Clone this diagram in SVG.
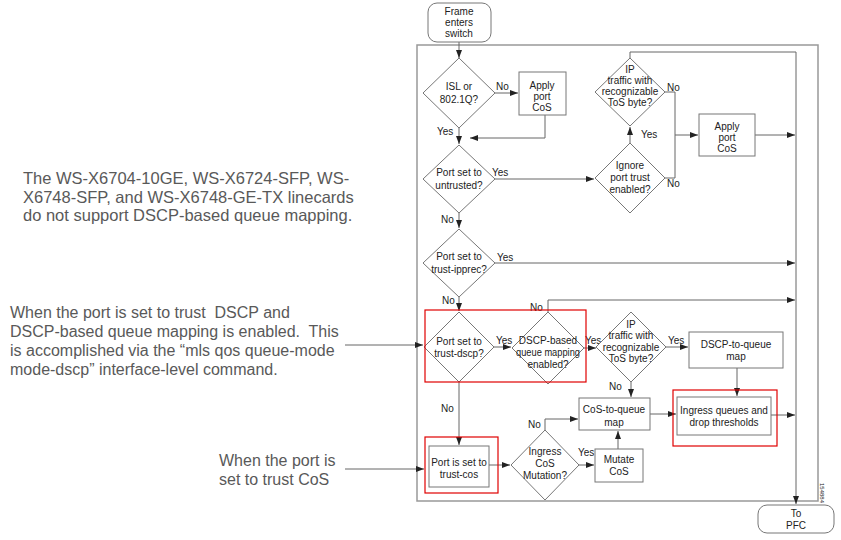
<svg xmlns="http://www.w3.org/2000/svg" width="841" height="540" viewBox="0 0 841 540">
<style>
.t{font-family:"Liberation Sans",Arial,sans-serif;font-size:10px;fill:#222;text-anchor:middle}
.l{font-family:"Liberation Sans",Arial,sans-serif;font-size:10px;fill:#222}
.n{fill:#fff;stroke:#777;stroke-width:1}
.a{font-family:"Liberation Sans",Arial,sans-serif;font-size:16px;fill:#595959}
.c{fill:none;stroke:#666;stroke-width:1}
.r{fill:none;stroke:#e00000;stroke-width:1.2}
</style>
<defs>
<marker id="ar" markerUnits="userSpaceOnUse" markerWidth="8" markerHeight="6" refX="8" refY="3" orient="auto">
<path d="M0,0 L8,3 L0,6 z" fill="#222"/>
</marker>
</defs>
<rect width="841" height="540" fill="#fff"/>
<rect id="frame-box" x="417" y="45" width="401" height="456" fill="none" stroke="#999" stroke-width="1.5"/>

<g id="connectors">
<path class="c" d="M459,42 V58" marker-end="url(#ar)"/>
<path class="c" d="M495,93 H518" marker-end="url(#ar)"/>
<path class="c" d="M545,115 V138 H470" marker-end="url(#ar)"/>
<path class="c" d="M459,128 V144" marker-end="url(#ar)"/>
<path class="c" d="M495,179 H594" marker-end="url(#ar)"/>
<path class="c" d="M459,213 V228" marker-end="url(#ar)"/>
<path class="c" d="M495,263 H795" marker-end="url(#ar)"/>
<path class="c" d="M459,297 V311" marker-end="url(#ar)"/>
<path class="c" d="M494,347 H511" marker-end="url(#ar)"/>
<path class="c" d="M548,312 V300 H795" marker-end="url(#ar)"/>
<path class="c" d="M584,348 H596" marker-end="url(#ar)"/>
<path class="c" d="M666,347 H688" marker-end="url(#ar)"/>
<path class="c" d="M631,382 V397" marker-end="url(#ar)"/>
<path class="c" d="M737,368 V396" marker-end="url(#ar)"/>
<path class="c" d="M650,414 H676" marker-end="url(#ar)"/>
<path class="c" d="M771,415 H795" marker-end="url(#ar)"/>
<path class="c" d="M459,382 V445" marker-end="url(#ar)"/>
<path class="c" d="M489,465 H510" marker-end="url(#ar)"/>
<path class="c" d="M545,430 V419 H578" marker-end="url(#ar)"/>
<path class="c" d="M579,465 H594" marker-end="url(#ar)"/>
<path class="c" d="M618,449 V431" marker-end="url(#ar)"/>
<path class="c" d="M630,143 V127" marker-end="url(#ar)"/>
<path class="c" d="M665,92 H675 V178 H665"/>
<path class="c" d="M675,135 H698" marker-end="url(#ar)"/>
<path class="c" d="M755,135 H795" marker-end="url(#ar)"/>
<path class="c" d="M630,58 V52 H796 V504" marker-end="url(#ar)"/>
<path class="c" d="M345,345 H423" marker-end="url(#ar)"/>
<path class="c" d="M345,469 H424" marker-end="url(#ar)"/>
</g>

<g id="labels">
<text class="l" x="496" y="90">No</text>
<text class="l" x="437" y="135">Yes</text>
<text class="l" x="492" y="176">Yes</text>
<text class="l" x="441" y="223">No</text>
<text class="l" x="497" y="261">Yes</text>
<text class="l" x="442" y="304">No</text>
<text class="l" x="496" y="344">Yes</text>
<text class="l" x="530" y="311">No</text>
<text class="l" x="585" y="344">Yes</text>
<text class="l" x="668" y="344">Yes</text>
<text class="l" x="609" y="390">No</text>
<text class="l" x="441" y="412">No</text>
<text class="l" x="528" y="428">No</text>
<text class="l" x="578" y="456">Yes</text>
<text class="l" x="641" y="138">Yes</text>
<text class="l" x="667" y="91">No</text>
<text class="l" x="667" y="187">No</text>
</g>

<g id="n-frame">
<rect class="n" x="428" y="3" width="63" height="39" rx="9"/>
<text class="t" x="459" y="15">Frame</text>
<text class="t" x="459" y="26">enters</text>
<text class="t" x="459" y="37">switch</text>
</g>
<g id="n-isl">
<polygon class="n" points="459,58 495,93 459,128 423,93"/>
<text class="t" x="459" y="90">ISL or</text>
<text class="t" x="459" y="103">802.1Q?</text>
</g>
<g id="n-apply1">
<rect class="n" x="519" y="72" width="47" height="43"/>
<text class="t" x="542" y="89">Apply</text>
<text class="t" x="542" y="100">port</text>
<text class="t" x="542" y="111">CoS</text>
</g>
<g id="n-untrusted">
<polygon class="n" points="459,145 495,179 459,213 423,179"/>
<text class="t" x="459" y="176">Port set to</text>
<text class="t" x="459" y="189">untrusted?</text>
</g>
<g id="n-ipprec">
<polygon class="n" points="459,229 495,263 459,297 423,263"/>
<text class="t" x="459" y="260">Port set to</text>
<text class="t" x="459" y="273">trust-ipprec?</text>
</g>
<g id="n-dscp">
<polygon class="n" points="459,312 494,347 459,382 424,347"/>
<text class="t" x="459" y="345">Port set to</text>
<text class="t" x="459" y="357">trust-dscp?</text>
</g>
<g id="n-dscpq">
<polygon class="n" points="548,312 584,348 548,384 512,348"/>
<text class="t" x="548" y="344">DSCP-based</text>
<text class="t" x="548" y="356" textLength="64" lengthAdjust="spacingAndGlyphs">queue mapping</text>
<text class="t" x="548" y="368">enabled?</text>
</g>
<g id="n-ip1">
<polygon class="n" points="630,58 665,92 630,126 595,92"/>
<text class="t" x="630" y="73">IP</text>
<text class="t" x="630" y="84">traffic with</text>
<text class="t" x="630" y="95">recognizable</text>
<text class="t" x="630" y="106">ToS byte?</text>
</g>
<g id="n-ignore">
<polygon class="n" points="630,143 665,178 630,213 595,178"/>
<text class="t" x="630" y="169">Ignore</text>
<text class="t" x="630" y="181">port trust</text>
<text class="t" x="630" y="193">enabled?</text>
</g>
<g id="n-apply2">
<rect class="n" x="699" y="114" width="56" height="42"/>
<text class="t" x="727" y="130">Apply</text>
<text class="t" x="727" y="141">port</text>
<text class="t" x="727" y="152">CoS</text>
</g>
<g id="n-ip2">
<polygon class="n" points="631,312 666,347 631,382 596,347"/>
<text class="t" x="631" y="328">IP</text>
<text class="t" x="631" y="339">traffic with</text>
<text class="t" x="631" y="351">recognizable</text>
<text class="t" x="631" y="362">ToS byte?</text>
</g>
<g id="n-dscpmap">
<rect class="n" x="689" y="332" width="94" height="36"/>
<text class="t" x="736" y="348">DSCP-to-queue</text>
<text class="t" x="736" y="360">map</text>
</g>
<g id="n-cosmap">
<rect class="n" x="579" y="398" width="71" height="32"/>
<text class="t" x="614" y="413">CoS-to-queue</text>
<text class="t" x="614" y="426">map</text>
</g>
<g id="n-ingress">
<rect class="n" x="677" y="397" width="94" height="38"/>
<text class="t" x="724" y="414">Ingress queues and</text>
<text class="t" x="724" y="426">drop thresholds</text>
</g>
<g id="n-trustcos">
<rect class="n" x="429" y="446" width="60" height="41"/>
<text class="t" x="459" y="466">Port is set to</text>
<text class="t" x="459" y="478">trust-cos</text>
</g>
<g id="n-mutation">
<polygon class="n" points="545,430 579,465 545,500 511,465"/>
<text class="t" x="545" y="455">Ingress</text>
<text class="t" x="545" y="467">CoS</text>
<text class="t" x="545" y="479">Mutation?</text>
</g>
<g id="n-mutate">
<rect class="n" x="595" y="449" width="48" height="33"/>
<text class="t" x="619" y="463">Mutate</text>
<text class="t" x="619" y="475">CoS</text>
</g>
<g id="n-pfc">
<rect class="n" x="758" y="505" width="76" height="28" rx="9"/>
<text class="t" x="796" y="517">To</text>
<text class="t" x="796" y="529">PFC</text>
</g>
<text x="820" y="483" transform="rotate(90 820 483)" style="font-family:'Liberation Sans',Arial,sans-serif;font-size:6px;fill:#222">154884</text>

<g id="highlights">
<rect class="r" x="425" y="310" width="161" height="72"/>
<rect class="r" x="673" y="390" width="104" height="56"/>
<rect class="r" x="425" y="437" width="73" height="56"/>
</g>

<g id="annotations">
<text class="a" x="23" y="184" style="font-size:16.5px">The WS-X6704-10GE, WS-X6724-SFP, WS-</text>
<text class="a" x="23" y="203" style="font-size:16.5px">X6748-SFP, and WS-X6748-GE-TX linecards</text>
<text class="a" x="23" y="221" style="font-size:16.5px">do not support DSCP-based queue mapping.</text>
<text class="a" x="10" y="318" xml:space="preserve">When the port is set to trust  DSCP and</text>
<text class="a" x="10" y="337" xml:space="preserve">DSCP-based queue mapping is enabled.  This</text>
<text class="a" x="10" y="356">is accomplished via the “mls qos queue-mode</text>
<text class="a" x="10" y="375">mode-dscp” interface-level command.</text>
<text class="a" x="219" y="466">When the port is</text>
<text class="a" x="219" y="485">set to trust CoS</text>
</g>
</svg>
